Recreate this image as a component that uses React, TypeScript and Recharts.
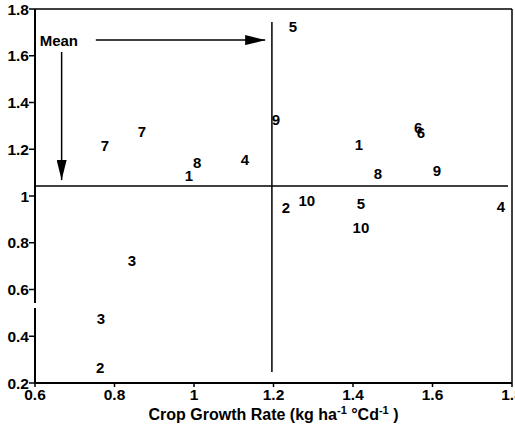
import React from 'react';
import {
  ScatterChart,
  Scatter,
  XAxis,
  YAxis,
  ReferenceLine,
  ReferenceDot,
} from 'recharts';

// crop growth rate (x) vs relative value (y), labelled by cultivar number
const growthRate = [
  1.249, 1.206, 0.776, 0.869, 1.008, 0.987, 1.128, 1.415, 1.564, 1.571,
  1.463, 1.611, 1.231, 1.284, 1.42, 1.772, 1.42, 0.844, 0.766, 0.764,
];
const relValue = [
  1.723, 1.329, 1.218, 1.274, 1.145, 1.086, 1.158, 1.222, 1.295, 1.27,
  1.098, 1.111, 0.952, 0.979, 0.97, 0.953, 0.867, 0.722, 0.478, 0.268,
];
const pointLabels = [
  '5', '9', '7', '7', '8', '1', '4', '1', '6', '6',
  '8', '9', '2', '10', '5', '4', '10', '3', '3', '2',
];

const xTicks = [0.6, 0.8, 1, 1.2, 1.4, 1.6, 1.8];
const yTicks = [0.2, 0.4, 0.6, 0.8, 1, 1.2, 1.4, 1.6, 1.8];

const meanX = 1.196;
const meanY = 1.043;

const data = growthRate.map((x, i) => ({ x, y: relValue[i], label: pointLabels[i] }));

const FONT = '"Liberation Sans", Arial, Helvetica, sans-serif';

const NumberMark = (props: any) => (
  <text
    x={props.cx}
    y={props.cy}
    textAnchor="middle"
    dominantBaseline="central"
    fontSize={15}
    fontWeight="bold"
    fontFamily={FONT}
    fill="#000"
  >
    {props.payload.label}
  </text>
);

export default function App() {
  return (
    <div
      style={{
        position: 'absolute',
        left: 0,
        top: 0,
        width: 515,
        height: 430,
        background: '#fff',
        fontFamily: FONT,
      }}
    >
      <ScatterChart width={515} height={430} margin={{ top: 9, right: 3, left: 0, bottom: 17 }}>
        <defs>
          <marker
            id="arrowHead"
            markerWidth="20"
            markerHeight="10"
            refX="20"
            refY="5"
            orient="auto"
            markerUnits="userSpaceOnUse"
          >
            <path d="M0,0 L20,5 L0,10 z" fill="#000" />
          </marker>
        </defs>

        <XAxis
          type="number"
          dataKey="x"
          domain={[0.6, 1.8]}
          ticks={xTicks}
          interval={0}
          allowDataOverflow
          height={30}
          tickSize={4}
          tickMargin={2}
          axisLine={{ stroke: '#000', strokeWidth: 2 }}
          tickLine={{ stroke: '#000', strokeWidth: 1.5 }}
          tick={{ fill: '#000', fontSize: 15.5, fontWeight: 'bold', fontFamily: FONT }}
        />
        <YAxis
          type="number"
          dataKey="y"
          domain={[0.2, 1.8]}
          ticks={yTicks}
          interval={0}
          allowDataOverflow
          width={35}
          tickSize={6}
          tickMargin={0}
          axisLine={false}
          tickLine={{ stroke: '#000', strokeWidth: 1.5 }}
          tick={{ fill: '#000', fontSize: 15.5, fontWeight: 'bold', fontFamily: FONT }}
        />

        {/* frame and broken y axis */}
        <ReferenceLine y={1.8} stroke="#000" strokeWidth={1.5} />
        <ReferenceLine x={1.8} stroke="#000" strokeWidth={1.5} />
        <ReferenceLine segment={[{ x: 0.6, y: 0.2 }, { x: 0.6, y: 0.521 }]} stroke="#000" strokeWidth={2} />
        <ReferenceLine segment={[{ x: 0.6, y: 0.542 }, { x: 0.6, y: 1.8 }]} stroke="#000" strokeWidth={2} />

        {/* mean lines */}
        <ReferenceLine segment={[{ x: 0.6, y: meanY }, { x: 1.79, y: meanY }]} stroke="#000" strokeWidth={1.5} />
        <ReferenceLine segment={[{ x: meanX, y: 0.247 }, { x: meanX, y: 1.744 }]} stroke="#000" strokeWidth={1.5} />

        {/* Mean annotation */}
        <ReferenceDot
          x={0.66}
          y={1.663}
          r={0}
          fill="none"
          stroke="none"
          label={{ value: 'Mean', position: 'center', fill: '#000', fontSize: 15, fontWeight: 'bold', fontFamily: FONT }}
        />
        <ReferenceLine
          segment={[{ x: 0.753, y: 1.667 }, { x: 1.179, y: 1.667 }]}
          stroke="#000"
          strokeWidth={1.5}
          markerEnd="url(#arrowHead)"
        />
        <ReferenceLine
          segment={[{ x: 0.667, y: 1.616 }, { x: 0.667, y: 1.068 }]}
          stroke="#000"
          strokeWidth={1.5}
          markerEnd="url(#arrowHead)"
        />

        <Scatter data={data} shape={NumberMark} isAnimationActive={false} />
      </ScatterChart>

      <div
        style={{
          position: 'absolute',
          left: 35,
          width: 477,
          top: 407,
          textAlign: 'center',
          fontSize: 16,
          lineHeight: '16px',
          fontWeight: 'bold',
          color: '#000',
          whiteSpace: 'nowrap',
        }}
      >
        Crop Growth Rate (kg ha
        <sup style={{ fontSize: 11, verticalAlign: 'baseline', position: 'relative', top: -6 }}>-1</sup>
        {' °Cd'}
        <sup style={{ fontSize: 11, verticalAlign: 'baseline', position: 'relative', top: -6 }}>-1</sup>
        {' )'}
      </div>
    </div>
  );
}
